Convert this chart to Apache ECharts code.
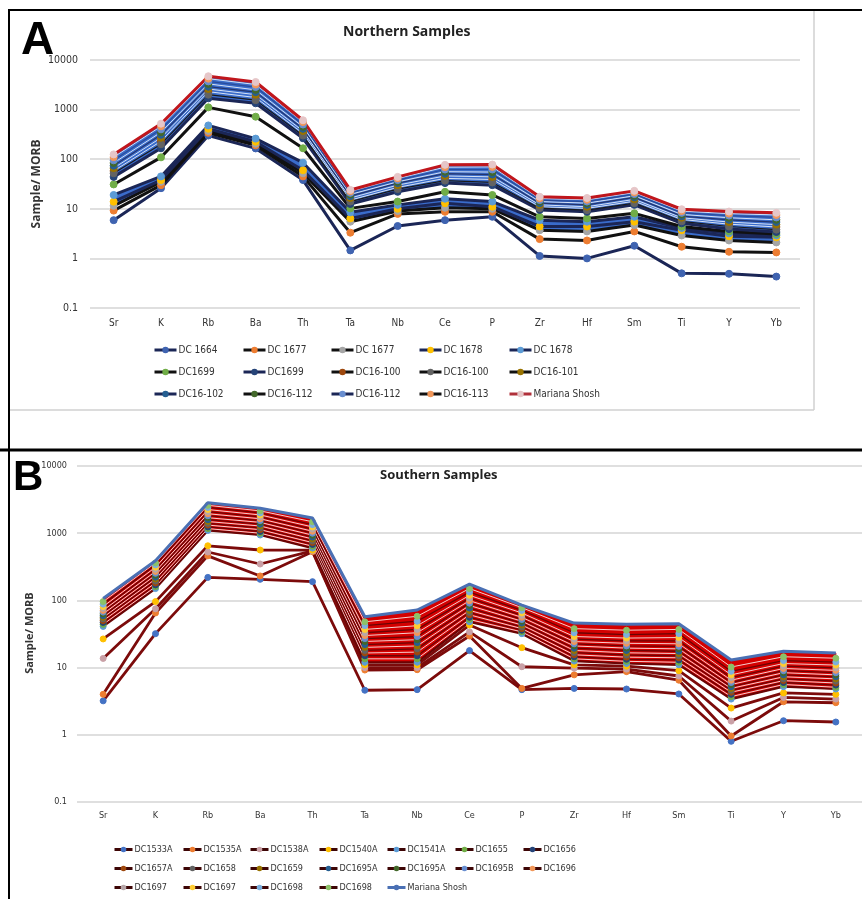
<!DOCTYPE html>
<html>
<head>
<meta charset="utf-8">
<title>Northern / Southern Samples</title>
<script src="https://cdn.jsdelivr.net/npm/echarts@6/dist/echarts.min.js"></script>
<style>
  html, body { margin: 0; padding: 0; background: #fff; }
  #chart { width: 862px; height: 899px; }
</style>
</head>
<body>
<div id="chart"></div>
<script>
// element order on both diagrams
var elements = ['Sr', 'K', 'Rb', 'Ba', 'Th', 'Ta', 'Nb', 'Ce', 'P', 'Zr', 'Hf', 'Sm', 'Ti', 'Y', 'Yb'];
var yTicks = [0.1, 1, 10, 100, 1000, 10000];

// ---- A: northern samples (sample / MORB) ----
var n1664   = [5.9, 26, 300, 165, 38, 1.45, 4.5, 5.9, 6.9, 1.12, 1.0, 1.8, 0.5, 0.49, 0.43];
var n1677a  = [9.2, 30, 340, 190, 45, 3.3, 7.9, 8.7, 8.7, 2.45, 2.3, 3.5, 1.72, 1.36, 1.32];
var n1677b  = [11.5, 35, 370, 205, 52, 5.5, 9, 10.5, 10, 3.7, 3.5, 4.7, 2.9, 2.3, 2.1];
var n1678a  = [13.9, 38, 410, 225, 60, 6.4, 10, 13, 11, 4.4, 4.4, 5.5, 3.7, 2.8, 2.66];
var n1678b  = [19, 45, 480, 260, 85, 8.5, 12, 16, 14, 5.9, 5.5, 6.9, 4.1, 3.2, 2.9];
var n1699a  = [31, 109, 1110, 720, 166, 10.2, 14, 22, 19, 6.9, 6.4, 8.1, 4.4, 3.5, 3.1];
var n1699b  = [44, 166, 1690, 1340, 264, 12.5, 22, 33, 30, 9.5, 8.7, 12, 5.1, 3.9, 3.4];
var n16100a = [58, 230, 2300, 1750, 330, 15, 27, 41, 39, 11, 10.2, 14.2, 6.1, 4.9, 4.3];
var n16100b = [52, 200, 2000, 1550, 300, 14, 25, 37, 34, 10.3, 9.4, 13, 5.6, 4.4, 3.8];
var n16101  = [66, 270, 2600, 2000, 370, 16.5, 30, 46, 44, 12, 11, 15.5, 6.6, 5.4, 4.8];
var n16102  = [74, 310, 2900, 2250, 410, 18, 33, 51, 49, 13, 12, 17, 7.1, 6, 5.4];
var n16112a = [84, 350, 3300, 2500, 450, 19.5, 35, 56, 55, 14, 13, 18.3, 7.7, 6.6, 6];
var n16112b = [95, 400, 3700, 2850, 500, 21, 38, 62, 62, 15, 14, 19.8, 8.3, 7.3, 6.7];
var n16113  = [110, 460, 4200, 3200, 560, 22.5, 41, 69, 70, 16.2, 15.2, 21.3, 9, 8, 7.5];
var nMariana = [125, 520, 4700, 3600, 610, 24, 44, 77, 78, 17.5, 16.5, 23, 9.8, 8.8, 8.3];

// ---- B: southern samples (sample / MORB) ----
var s1533a  = [3.2, 32, 220, 206, 190, 4.6, 4.7, 17.9, 4.7, 4.9, 4.8, 4.05, 0.8, 1.62, 1.55];
var s1535a  = [4.0, 65, 460, 231, 530, 9.2, 9.3, 29.5, 4.9, 7.8, 8.7, 6.5, 0.96, 3.1, 3.0];
var s1538a  = [13.7, 75, 525, 348, 545, 10, 10, 34, 10.3, 9.8, 9.5, 7.5, 1.6, 3.6, 3.4];
var s1540a  = [26.7, 96, 650, 562, 560, 11, 11, 43, 19.8, 11, 10.5, 9, 2.5, 4.2, 4.0];
var s1541a  = [41, 150, 1100, 940, 600, 12, 12, 48, 32, 12.5, 11.5, 11, 3.4, 5.2, 4.8];
var s1655   = [44, 160, 1170, 1000, 640, 13.5, 13.5, 52, 34, 13.5, 12.4, 12, 3.7, 5.6, 5.1];
var s1656   = [47, 170, 1240, 1060, 680, 15, 15, 56, 36, 14.5, 13.3, 13, 4.0, 6, 5.5];
var s1657a  = [50, 182, 1320, 1130, 725, 16.5, 17, 61, 38, 15.5, 14.3, 14, 4.3, 6.4, 5.9];
var s1658   = [53, 195, 1400, 1200, 770, 18, 19, 66, 40.5, 16.7, 15.4, 15, 4.6, 6.8, 6.3];
var s1659   = [56, 208, 1490, 1280, 820, 20, 21, 71, 43, 18, 16.6, 16.2, 4.9, 7.3, 6.8];
var s1695a1 = [59, 222, 1590, 1360, 875, 22, 23.5, 77, 46, 19.4, 18, 17.5, 5.2, 7.8, 7.3];
var s1695a2 = [63, 237, 1700, 1450, 935, 24.5, 26, 84, 49, 21, 19.5, 19, 5.6, 8.4, 7.8];
var s1695b  = [67, 253, 1820, 1540, 1000, 27, 29, 91, 52, 22.6, 21, 20.7, 6.0, 9, 8.4];
var s1696   = [71, 270, 1950, 1640, 1070, 30, 33, 99, 56, 24.4, 23, 22.6, 6.5, 9.7, 9.1];
var s1697a  = [76, 290, 2090, 1750, 1150, 33, 37, 108, 60, 26.5, 25, 25, 7.1, 10.5, 9.9];
var s1697b  = [81, 312, 2250, 1870, 1240, 37, 42, 119, 65, 29, 27.5, 28, 7.8, 11.5, 10.9];
var s1698a  = [88, 338, 2420, 2000, 1340, 42, 49, 133, 71, 33, 31, 32, 8.8, 12.7, 12.1];
var s1698b  = [96, 362, 2600, 2150, 1480, 48, 58, 150, 78, 38, 36, 37, 10.2, 14.5, 13.8];
var sMariana = [107, 390, 2850, 2350, 1680, 57, 72, 175, 85, 46, 44, 45, 13, 17.5, 16.5];

var NAVY = '#1b2656', BLACK = '#111111';
var font = "'Liberation Sans Narrow', 'DejaVu Sans Condensed', 'Liberation Sans', sans-serif";

// [legend name, data, line colour, marker colour, line width, legend line colour]
var northList = [
    ['DC 1664', n1664, NAVY, '#3f63b0', 3, NAVY],
    ['DC 1677', n1677a, BLACK, '#ed7d31', 3, BLACK],
    ['DC 1677 ', n1677b, BLACK, '#a5a5a5', 3, BLACK],
    ['DC 1678', n1678a, NAVY, '#ffc000', 3, NAVY],
    ['DC 1678 ', n1678b, NAVY, '#5b9bd5', 3, NAVY],
    ['DC1699', n1699a, BLACK, '#70ad47', 3, BLACK],
    ['DC1699 ', n1699b, NAVY, '#264478', 3, NAVY],
    ['DC16-100', n16100a, '#d6e2f5', '#9e480e', 1, BLACK],
    ['DC16-100 ', n16100b, '#1a1a1a', '#636363', 1.2, BLACK],
    ['DC16-101', n16101, '#d6e2f5', '#997300', 1, BLACK],
    ['DC16-102', n16102, '#24356e', '#255e91', 1.2, NAVY],
    ['DC16-112', n16112a, '#d6e2f5', '#43682b', 1, BLACK],
    ['DC16-112 ', n16112b, '#2a4c9a', '#698ed0', 1.2, NAVY],
    ['DC16-113', n16113, '#d6e2f5', '#f1975a', 1, BLACK],
    ['Mariana Shosh', nMariana, '#c0161c', '#e6c6c8', 3, '#b0303a']
];

var DRED = '#6a0404', LRED = '#f7cfcf';
var southList = [
    ['DC1533A', s1533a, '#7c0b0b', '#4472c4', 2.8],
    ['DC1535A', s1535a, '#7c0b0b', '#ed7d31', 2.8],
    ['DC1538A', s1538a, '#7c0b0b', '#c9a0a6', 2.8],
    ['DC1540A', s1540a, '#7c0b0b', '#ffc000', 2.8],
    ['DC1541A', s1541a, DRED, '#5b9bd5', 2.2],
    ['DC1655', s1655, LRED, '#70ad47', 1],
    ['DC1656', s1656, DRED, '#264478', 1.3],
    ['DC1657A', s1657a, LRED, '#9e480e', 1],
    ['DC1658', s1658, DRED, '#636363', 1.3],
    ['DC1659', s1659, LRED, '#997300', 1],
    ['DC1695A', s1695a1, DRED, '#255e91', 1.3],
    ['DC1695A ', s1695a2, LRED, '#43682b', 1],
    ['DC1695B', s1695b, DRED, '#698ed0', 1.3],
    ['DC1696', s1696, LRED, '#f1975a', 1],
    ['DC1697', s1697a, DRED, '#b7a7a9', 1.3],
    ['DC1697 ', s1697b, LRED, '#ffcd33', 1],
    ['DC1698', s1698a, DRED, '#7cafdd', 1.3],
    ['DC1698 ', s1698b, LRED, '#8cc168', 1]
];

// filled band between two sample curves, positioned through the axes
function band(axisIdx, lo, hi, color) {
    return {
        type: 'custom',
        xAxisIndex: axisIdx,
        yAxisIndex: axisIdx,
        silent: true,
        z: 1,
        data: lo.map(function (v, i) { return [i, v, hi[i]]; }),
        encode: { x: 0, y: [1, 2] },
        renderItem: function (params, api) {
            var i = api.value(0);
            if (i >= lo.length - 1) return;
            var pts = [
                api.coord([i, hi[i]]),
                api.coord([i + 1, hi[i + 1]]),
                api.coord([i + 1, lo[i + 1]]),
                api.coord([i, lo[i]])
            ];
            return {
                type: 'polygon',
                shape: { points: pts },
                style: { fill: color, stroke: color, lineWidth: 1 }
            };
        }
    };
}

function lineSeries(item, axisIdx, symbolSize) {
    return {
        name: item[0],
        type: 'line',
        xAxisIndex: axisIdx,
        yAxisIndex: axisIdx,
        data: item[1],
        symbol: 'circle',
        symbolSize: symbolSize,
        showAllSymbol: true,
        z: 3,
        lineStyle: { color: item[2], width: item[4] },
        itemStyle: { color: item[3], borderColor: item[3] }
    };
}

var series = [];
series.push(band(0, n1699b, nMariana, '#3a6ccb'));
series.push(band(0, n1677b, n1678b, '#3a6ccb'));
series.push(band(1, s1541a, sMariana, '#d40000'));
northList.forEach(function (it) { series.push(lineSeries(it, 0, 7)); });
southList.forEach(function (it) { series.push(lineSeries(it, 1, 6)); });
series.push({
    name: 'Mariana Shosh ',
    type: 'line',
    xAxisIndex: 1,
    yAxisIndex: 1,
    data: sMariana,
    symbol: 'none',
    z: 4,
    lineStyle: { color: '#4a70b4', width: 3 },
    itemStyle: { color: '#4a70b4' }
});

// legends laid out in fixed columns like the spreadsheet legend
var legends = [];
var colA = [153, 242, 330, 418, 508];
colA.forEach(function (x, c) {
    var items = [];
    for (var r = 0; r < 3; r++) {
        var it = northList[r * 5 + c];
        items.push({ name: it[0], lineStyle: { color: it[5] } });
    }
    legends.push({
        orient: 'vertical', left: x, top: 345, itemGap: 12,
        itemWidth: 22, itemHeight: 8, padding: 0, selectedMode: false,
        lineStyle: { width: 3 },
        textStyle: { fontSize: 10, color: '#333', fontFamily: font, padding: [0, 0, 0, -3] },
        data: items
    });
});
var colB = [113, 182, 249, 318, 386, 454, 522];
colB.forEach(function (x, c) {
    var items = [];
    for (var r = 0; r < 3; r++) {
        var k = r * 7 + c;
        if (k < southList.length) {
            items.push({ name: southList[k][0], lineStyle: { color: '#3d0505' } });
        } else if (k === southList.length) {
            items.push({ name: 'Mariana Shosh ', lineStyle: { color: '#4a70b4' } });
        }
    }
    legends.push({
        orient: 'vertical', left: x, top: 845, itemGap: 10,
        itemWidth: 18, itemHeight: 7, padding: 0, selectedMode: false,
        lineStyle: { width: 3 },
        textStyle: { fontSize: 9, color: '#333', fontFamily: font, padding: [0, 0, 0, -3] },
        data: items
    });
});

function yAxisCfg(idx, fs, margin) {
    return {
        type: 'log', logBase: 10, gridIndex: idx, min: 0.1, max: 10000, splitNumber: 5,
        axisLine: { show: false }, axisTick: { show: false },
        axisLabel: {
            fontSize: fs, color: '#333', fontFamily: font, margin: margin,
            formatter: function (v) { return v < 1 ? v.toFixed(1) : String(Math.round(v)); }
        },
        splitLine: { lineStyle: { color: '#d4d4d4', width: 1.5 } }
    };
}
function xAxisCfg(idx, fs, margin) {
    return {
        type: 'category', gridIndex: idx, data: elements, boundaryGap: true,
        axisLine: { show: false }, axisTick: { show: false },
        axisLabel: { fontSize: fs, color: '#333', fontFamily: font, margin: margin, interval: 0 }
    };
}

var option = {
    animation: false,
    backgroundColor: '#ffffff',
    title: [
        { text: 'A', left: 21, top: 18, padding: 0,
          textStyle: { fontSize: 46, fontWeight: 'bold', fontFamily: 'Liberation Sans', color: '#000' } },
        { text: 'Northern Samples', left: 343, top: 25, padding: 0,
          textStyle: { fontSize: 14, fontWeight: 'bold', fontFamily: "'Open Sans', sans-serif", color: '#222' } },
        { text: 'B', left: 13, top: 457, padding: 0,
          textStyle: { fontSize: 42, fontWeight: 'bold', fontFamily: 'Liberation Sans', color: '#000' } },
        { text: 'Southern Samples', left: 380, top: 469, padding: 0,
          textStyle: { fontSize: 13, fontWeight: 'bold', fontFamily: "'Open Sans', sans-serif", color: '#222' } }
    ],
    grid: [
        { left: 90, top: 60, width: 710, height: 248 },
        { left: 77, top: 466, width: 786, height: 336 }
    ],
    xAxis: [xAxisCfg(0, 10, 10), xAxisCfg(1, 9, 9)],
    yAxis: [yAxisCfg(0, 10.5, 12), yAxisCfg(1, 9, 10)],
    legend: legends,
    series: series,
    graphic: [
        // panel frames
        { type: 'line', shape: { x1: 814, y1: 11, x2: 814, y2: 410 }, style: { stroke: '#d0d0d0', lineWidth: 1.5 } },
        { type: 'line', shape: { x1: 10, y1: 410, x2: 814, y2: 410 }, style: { stroke: '#d0d0d0', lineWidth: 1.5 } },
        { type: 'line', shape: { x1: 8, y1: 10, x2: 862, y2: 10 }, style: { stroke: '#000', lineWidth: 2 } },
        { type: 'line', shape: { x1: 9, y1: 10, x2: 9, y2: 899 }, style: { stroke: '#000', lineWidth: 2 } },
        { type: 'line', shape: { x1: 0, y1: 450, x2: 862, y2: 450 }, style: { stroke: '#000', lineWidth: 3 } },
        // axis titles
        { type: 'text', x: 37, y: 184, rotation: Math.PI / 2,
          style: { text: 'Sample/ MORB', fontSize: 12, fontWeight: 'bold', fontFamily: "'Open Sans', sans-serif",
                   fill: '#333', textAlign: 'center', textVerticalAlign: 'middle' } },
        { type: 'text', x: 30, y: 633, rotation: Math.PI / 2,
          style: { text: 'Sample/ MORB', fontSize: 11, fontWeight: 'bold', fontFamily: "'Open Sans', sans-serif",
                   fill: '#333', textAlign: 'center', textVerticalAlign: 'middle' } }
    ]
};

var myChart = echarts.init(document.getElementById('chart'));
myChart.setOption(option);
</script>
</body>
</html>
